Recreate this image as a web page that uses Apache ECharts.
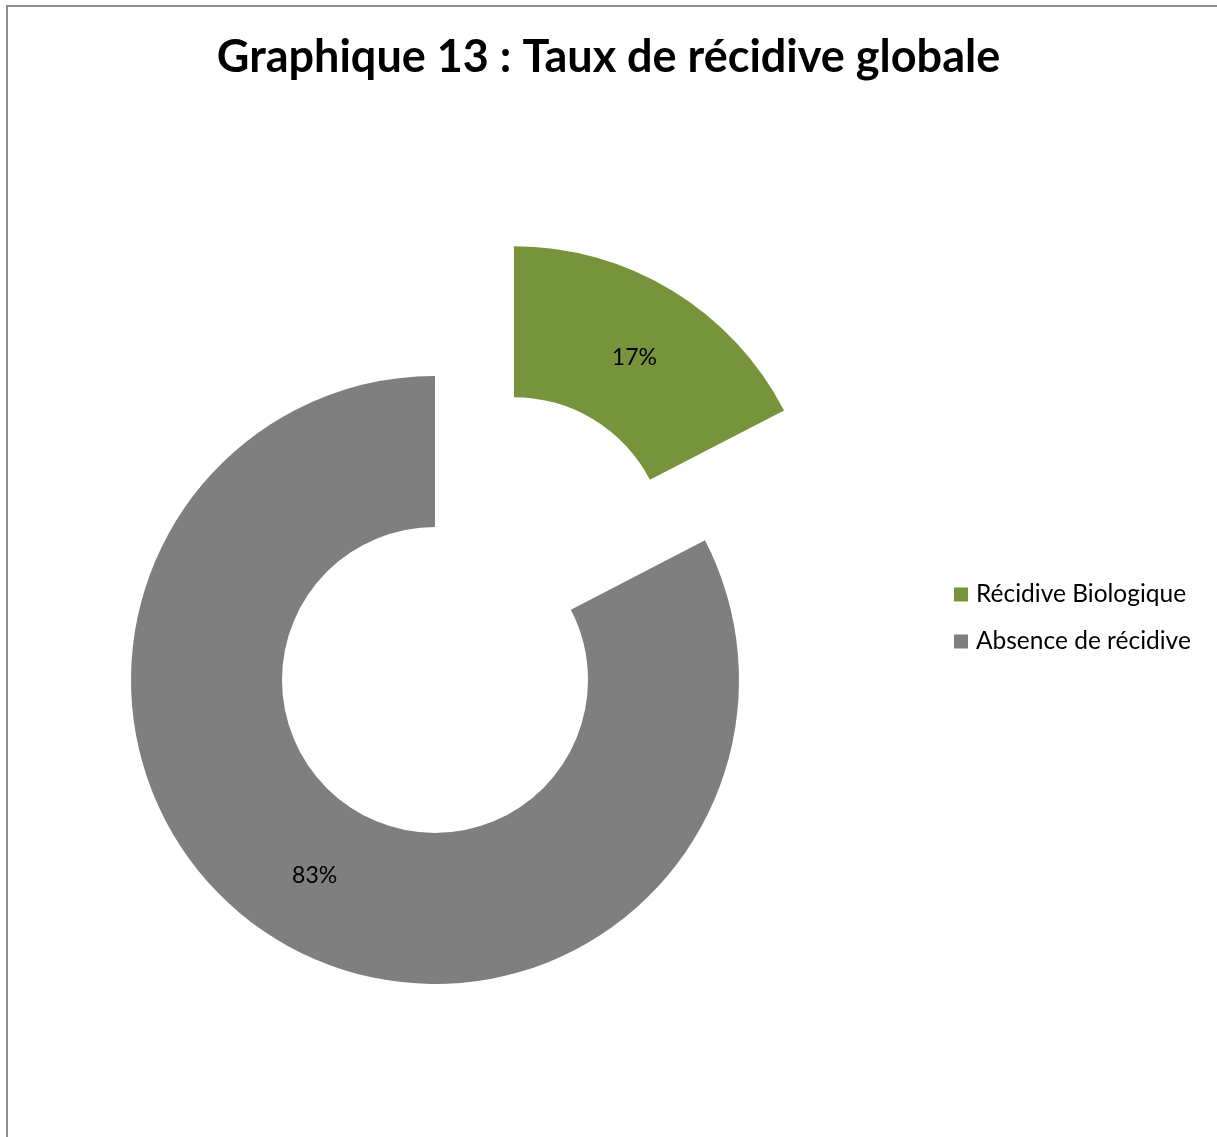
<!DOCTYPE html>
<html>
<head>
<meta charset="utf-8">
<script src="https://cdn.jsdelivr.net/npm/echarts@6/dist/echarts.min.js"></script>
<style>
html,body{margin:0;padding:0;background:#fff;}
#frame{position:absolute;left:6px;top:5px;width:1230px;height:1150px;border:2px solid #8e8e8e;box-sizing:border-box;}
#chart{position:absolute;left:0;top:0;width:1217px;height:1137px;}
</style>
</head>
<body>
<div id="frame"></div>
<div id="chart"></div>
<script>
const titleText = 'Graphique 13 : Taux de récidive globale';
const categories = ['Récidive Biologique', 'Absence de récidive'];
const values = [17.4, 82.6];
const colors = ['#77933C', '#7F7F7F'];
const labelNudges = [[0, 5], [0, -2]];

const chart = echarts.init(document.getElementById('chart'), null, {renderer: 'canvas'});
chart.setOption({
  backgroundColor: 'transparent',
  animation: false,
  title: {
    text: titleText,
    left: 'center',
    top: 30,
    textStyle: {fontFamily: 'Lato', fontWeight: 'bold', fontSize: 45, color: '#000'}
  },
  legend: {
    orient: 'vertical',
    left: 949,
    top: 577,
    itemWidth: 14,
    itemHeight: 14,
    itemGap: 22,
    icon: 'rect',
    textStyle: {fontFamily: 'Lato', fontSize: 24.5, color: '#000', padding: [0,0,0,3]},
    data: categories
  },
  series: [{
    type: 'pie',
    center: [435, 680],
    radius: [153, 304],
    startAngle: 90,
    clockwise: true,
    selectedMode: 'multiple',
    selectedOffset: 152,
    avoidLabelOverlap: false,
    label: {
      show: true,
      position: 'inside',
      formatter: function(p){ return Math.round(p.value) + '%'; },
      fontFamily: 'Lato',
      fontSize: 23,
      color: '#000'
    },
    labelLine: {show: false},
    emphasis: {disabled: true},
    data: categories.map((c, i) => ({
      name: c,
      value: values[i],
      selected: i === 0,
      itemStyle: {color: colors[i]},
      label: {offset: labelNudges[i]},
      select: {label: {offset: labelNudges[i]}}
    }))
  }]
});
</script>
</body>
</html>
